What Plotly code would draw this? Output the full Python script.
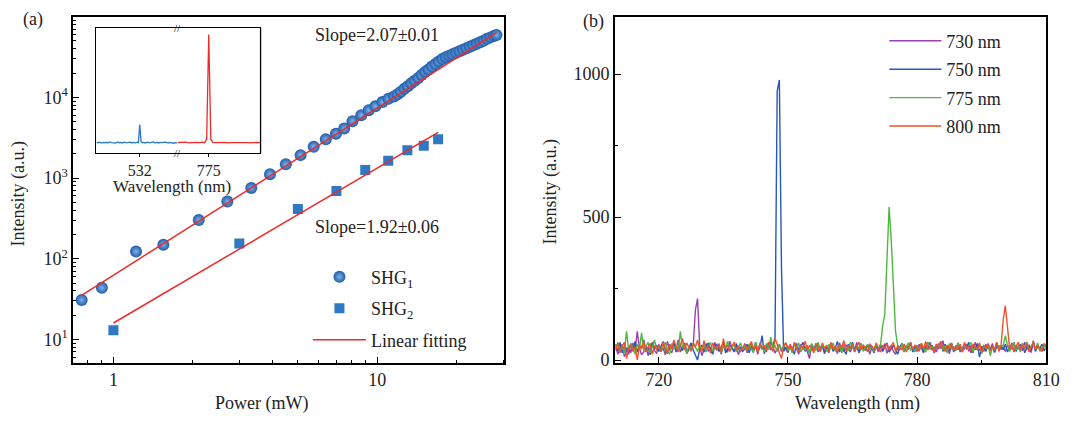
import numpy as np
import plotly.graph_objects as go

# ---------------- Panel (a) data ----------------
shg1_power = [0.758, 0.904, 1.218, 1.546, 2.106, 2.702, 3.33, 3.92, 4.50, 5.12, 5.74, 6.38, 6.97,
              7.49, 8.05, 8.69, 9.28, 9.83, 10.46, 11.02, 11.57, 11.93, 12.29, 12.67, 13.05,
              13.45, 13.86, 14.29, 14.72, 15.17, 15.63, 16.11, 16.60, 17.11, 17.63, 18.17,
              18.73, 19.29, 19.88, 20.49, 21.12, 21.76, 22.43, 23.11, 23.82, 24.55, 25.29,
              26.06, 26.86, 27.68, 28.28]
shg1_int = [30.9, 43.6, 122.7, 149.6, 302, 511, 751, 1117, 1478, 1923, 2438, 3020, 3548,
            4115, 5070, 6000, 6920, 7740, 8730, 9590, 10260, 10940, 11750, 12780, 13710,
            14930, 16000, 17420, 18960, 20630, 22140, 24100, 25850, 27730, 29770, 31480,
            32860, 34280, 35750, 37300, 38900, 40580, 42330, 44160, 46060, 48060, 50120,
            53040, 55340, 57700, 59380]
shg2_power = [1, 3, 5, 7, 9, 11, 13, 15, 17]
shg2_int = [13, 154, 413, 692, 1258, 1641, 2213, 2511, 3024]

fit1_amp, fit1_slope, fit1_range = 62.5, 2.07, [0.76, 28.3]
fit2_amp, fit2_slope, fit2_range = 16.0, 1.92, [1.0, 17.0]

inset_blue_start, inset_blue_step = 500, 1
inset_blue = [0.085, 0.082, 0.088, 0.084, 0.080, 0.086, 0.083, 0.087, 0.081, 0.085,
              0.089, 0.084, 0.082, 0.086, 0.080, 0.085, 0.088, 0.083, 0.086, 0.081,
              0.084, 0.087, 0.082, 0.085, 0.083, 0.088, 0.081, 0.086, 0.084, 0.082,
              0.087, 0.084, 0.228, 0.090, 0.083, 0.086, 0.081, 0.085, 0.088, 0.082,
              0.086, 0.084, 0.090, 0.083, 0.087, 0.085, 0.081, 0.086, 0.083, 0.085,
              0.082, 0.087, 0.084, 0.080, 0.086, 0.083, 0.085, 0.079, 0.084, 0.081, 0.082]
inset_red_start, inset_red_step = 760, 1
inset_red = [0.084, 0.086, 0.083, 0.085, 0.087, 0.082, 0.086, 0.084, 0.085, 0.083,
             0.086, 0.084, 0.087, 0.083, 0.110, 0.947, 0.110, 0.086, 0.084, 0.085,
             0.083, 0.086, 0.084, 0.085, 0.082, 0.086, 0.084, 0.083, 0.085, 0.086,
             0.084, 0.083, 0.085, 0.086, 0.084, 0.082, 0.085, 0.084, 0.086, 0.083, 0.085]

# ---------------- Panel (b) data ----------------
wl_start, wl_step = 710.0, 0.5
s730 = [45, 20, 38, 55, 12, 30, 48, 25, 60, 35, 100, 42, 18, 28, 50, 15, 40, 62, 33, 22,
        55, 30, 42, 18, 65, 38, 25, 50, 33, 70, 28, 45, 60, 22, 40, 52, 50, 175, 215, 50,
        15, 40, 58, 30, 45, 22, 62, 35, 48, 20, 55, 38, 28, 66, 42, 30, 50, 18, 44, 36,
        52, 25, 40, 60, 33, 47, 20, 58, 38, 45, 28, 62, 35, 50, 24, 43, 55, 30, 48, 38,
        26, 50, 35, 60, 42, 20, 55, 38, 45, 30, 5, 48, 36, 58, 28, 44, 52, 33, 40, 25,
        57, 35, 46, 22, 60, 38, 30, 52, 44, 28, 50, 36, 62, 25, 42, 48, 33, 55, 20, 45,
        38, 52, 28, 46, 35, 58, 24, 44, 50, 30, 20, 42, 36, 55, 28, 48, 40, 60, 32, 45,
        30, 55, 42, 25, 50, 38, 62, 34, 46, 28, 58, 40, 68, 32, 48, 22, 54, 40, 35, 60,
        28, 45, 38, 56, 30, 50, 24, 62, 40, 35, 48, 30, 55, 42, 36, 58, 26, 46, 50, 38,
        44, 30, 52, 36, 60, 28, 48, 40, 55, 32, 62, 38, 45, 26, 68, 35, 50, 42, 30, 55,
        40]
s750 = [55, 30, 62, 25, 48, 40, 20, 58, 35, 65, 28, 50, 42, 70, 30, 45, 18, 60, 38, 52,
        30, 48, 65, 35, 22, 55, 40, 62, 28, 45, 50, 33, 58, 25, 42, 60, 35, 20, 0, 38,
        52, 28, 45, 60, 35, 20, 48, 55, 30, 42, 62, 25, 38, 50, 44, 28, 58, 35, 46, 30,
        40, 55, 25, 48, 36, 62, 30, 44, 85, 22, 50, 38, 65, 45, 80, 940, 980, 320, 30, 45,
        28, 52, 40, 20, 58, 35, 46, 62, 30, 48, 25, 55, 38, 44, 60, 32, 50, 22, 45, 36,
        58, 30, 42, 65, 28, 50, 36, 20, 55, 40, 62, 34, 48, 26, 58, 38, 45, 30, 52, 42,
        25, 48, 36, 55, 30, 44, 60, 28, 40, 52, 35, 20, 46, 58, 32, 50, 38, 62, 28, 44,
        50, 35, 58, 28, 45, 62, 38, 52, 24, 48, 40, 66, 30, 55, 42, 36, 60, 28, 50, 38,
        45, 30, 55, 40, 62, 25, 48, 36, 58, 10, 42, 50, 30, 56, 38, 45, 28, 60, 35, 48,
        36, 55, 28, 46, 40, 62, 30, 50, 38, 58, 25, 44, 52, 35, 60, 30, 48, 40, 55, 32,
        45]
s775 = [40, 62, 30, 50, 25, 100, 35, 58, 42, 20, 55, 38, 95, 30, 48, 62, 25, 44, 70, 36,
        50, 28, 45, 62, 35, 20, 58, 40, 48, 30, 100, 42, 55, 25, 50, 38, 60, 45, 30, 52,
        35, 55, 28, 48, 62, 30, 45, 38, 58, 25, 50, 40, 66, 32, 46, 55, 28, 42, 60, 36,
        48, 30, 56, 40, 25, 62, 38, 50, 44, 28, 58, 36, 80, 42, 50, 30, 55, 38, 46, 60,
        32, 48, 25, 55, 40, 60, 28, 45, 36, 52, 20, 58, 42, 34, 62, 28, 50, 44, 30, 55,
        38, 60, 30, 46, 52, 25, 56, 40, 34, 62, 45, 28, 50, 38, 58, 30, 44, 55, 36, 48,
        30, 52, 40, 50, 120, 160, 350, 535, 420, 260, 100, 50, 38, 55, 30, 46, 60, 35, 42, 28,
        50, 36, 58, 42, 28, 62, 40, 48, 30, 55, 45, 66, 35, 50, 25, 58, 40, 46, 32, 60,
        42, 28, 55, 38, 50, 62, 30, 46, 36, 58, 22, 48, 40, 55, 15, 45, 35, 60, 42, 50,
        50, 85, 52, 30, 46, 62, 35, 50, 28, 56, 40, 64, 32, 48, 55, 38, 60, 30, 45, 52,
        38]
s800 = [35, 58, 25, 48, 62, 5, 40, 55, 30, 46, 0, 52, 38, 65, 28, 44, 58, 20, 50, 36,
        48, 30, 62, 40, 25, 55, 38, 70, 45, 28, 52, 75, 35, 60, 42, 30, 58, 45, 70, 40,
        30, 68, 38, 50, 25, 60, 42, 35, 55, 28, 75, 40, 52, 30, 48, 62, 35, 50, 28, 45,
        58, 32, 48, 65, 38, 52, 28, 60, 42, 50, 35, 62, 45, 30, 75, 55, 25, 5, 48, 60,
        40, 55, 30, 62, 45, 28, 52, 38, 66, 35, 50, 42, 25, 58, 46, 32, 60, 40, 52, 30,
        62, 38, 48, 30, 55, 44, 68, 32, 50, 40, 58, 28, 46, 62, 36, 52, 42, 30, 55, 48,
        35, 60, 42, 28, 52, 40, 58, 34, 48, 62, 30, 50, 44, 36, 56, 28, 46, 60, 38, 52,
        44, 30, 58, 40, 65, 35, 50, 42, 28, 56, 38, 62, 46, 30, 52, 40, 58, 34, 48, 36,
        55, 28, 62, 40, 48, 30, 56, 44, 36, 60, 25, 50, 42, 58, 32, 46, 38, 62, 30, 50,
        140, 190, 120, 40, 55, 30, 48, 62, 36, 50, 42, 58, 28, 46, 65, 35, 52, 40, 30, 58,
        48]
spec_names = ["730 nm", "750 nm", "775 nm", "800 nm"]
spec_colors = ["#9b3fb5", "#2358bd", "#4cb83c", "#f0512c"]

FONT = "Liberation Serif"
TXT = "#222222"
W, H = 1077, 421

fig = go.Figure()

fig.add_trace(go.Scatter(x=shg1_power, y=shg1_int, mode="markers", name="SHG<sub>1</sub>",
                         marker=dict(size=12, color="#1f5cab", line=dict(width=0),
                                     gradient=dict(type="radial", color="#7fb3e8")),
                         xaxis="x", yaxis="y", legend="legend", legendgroup="g1"))
fig.add_trace(go.Scatter(x=shg2_power, y=shg2_int, mode="markers", name="SHG<sub>2</sub>",
                         marker=dict(size=10, symbol="square", color="#2f78c4", line=dict(width=0)),
                         xaxis="x", yaxis="y", legend="legend", legendgroup="g2"))
for amp, slope, rng, first in [(fit1_amp, fit1_slope, fit1_range, True),
                               (fit2_amp, fit2_slope, fit2_range, False)]:
    px = np.array(rng)
    fig.add_trace(go.Scatter(x=px, y=amp * px ** slope, mode="lines",
                             line=dict(color="#ee2a2a", width=1.5),
                             name="Linear fitting", showlegend=first,
                             xaxis="x", yaxis="y", legend="legend", legendgroup="g3"))

bx = inset_blue_start + inset_blue_step * np.arange(len(inset_blue))
rx = inset_red_start + inset_red_step * np.arange(len(inset_red))
fig.add_trace(go.Scatter(x=bx, y=inset_blue, mode="lines", line=dict(color="#2f78c4", width=1.3),
                         showlegend=False, xaxis="x3", yaxis="y3"))
fig.add_trace(go.Scatter(x=rx, y=inset_red, mode="lines", line=dict(color="#ee2a2a", width=1.3),
                         showlegend=False, xaxis="x4", yaxis="y3"))

wl = wl_start + wl_step * np.arange(len(s730))
for i, (s, n, c) in enumerate(zip([s730, s750, s775, s800], spec_names, spec_colors)):
    fig.add_trace(go.Scatter(x=wl, y=s, mode="lines", name=n, line=dict(color=c, width=1.4),
                             xaxis="x2", yaxis="y2", legend="legend2", legendgroup=f"s{i}"))

axis_common = dict(showline=True, linecolor="black", linewidth=1.5, mirror=True,
                   showgrid=False, zeroline=False, ticks="inside", tickcolor="black",
                   tickwidth=1.2, ticklen=6, tickfont=dict(family=FONT, size=18, color=TXT))


def px2x(p):
    return p / W


def px2y(p):
    return (H - p) / H


ydom = [px2y(369), px2y(17)]
inset_tick_font = dict(family=FONT, size=16, color=TXT)
fig.update_layout(
    width=W, height=H, autosize=False,
    margin=dict(l=0, r=0, t=0, b=0),
    paper_bgcolor="white", plot_bgcolor="white",
    font=dict(family=FONT, size=18, color=TXT),
    xaxis=dict(axis_common, type="log", domain=[px2x(74), px2x(511)], anchor="y",
               range=[np.log10(0.703), np.log10(30.3)],
               tickmode="array", tickvals=[1, 10], ticktext=["1", "10"],
               minor=dict(ticks="inside", ticklen=3, tickcolor="black", tickwidth=1,
                          tickmode="array", tickvals=[0.8, 0.9, 2, 3, 4, 5, 6, 7, 8, 9, 20, 30])),
    yaxis=dict(axis_common, type="log", domain=ydom, anchor="x",
               range=[0.71, 4.999],
               tickmode="array", tickvals=[10, 100, 1000, 10000],
               ticktext=["10<sup>1</sup>", "10<sup>2</sup>", "10<sup>3</sup>", "10<sup>4</sup>"],
               minor=dict(ticks="inside", ticklen=3, tickcolor="black", tickwidth=1,
                          tickmode="array",
                          tickvals=[m * 10 ** k for k in range(0, 5) for m in range(2, 10)])),
    xaxis2=dict(axis_common, domain=[px2x(623), px2x(1060)], anchor="y2",
                range=[709.8, 810], tickmode="array", tickvals=[720, 750, 780, 810],
                minor=dict(ticks="inside", ticklen=3, tickcolor="black", tickwidth=1,
                           tickmode="array", tickvals=[735, 765, 795])),
    yaxis2=dict(axis_common, domain=ydom, anchor="x2",
                range=[-10, 1201], tickmode="array", tickvals=[0, 500, 1000],
                minor=dict(ticks="inside", ticklen=3, tickcolor="black", tickwidth=1,
                           tickmode="array", tickvals=[250, 750])),
    xaxis3=dict(showline=True, linecolor="black", linewidth=1.3, mirror=True, showgrid=False,
                zeroline=False, domain=[px2x(97.7), px2x(180)], anchor="y3",
                range=[500, 560], tickmode="array", tickvals=[532], ticks="outside",
                ticklen=3, tickcolor="black", tickfont=inset_tick_font),
    xaxis4=dict(showline=True, linecolor="black", linewidth=1.3, mirror=True, showgrid=False,
                zeroline=False, domain=[px2x(180), px2x(264)], anchor="y3",
                range=[760, 800], tickmode="array", tickvals=[775], ticks="outside",
                ticklen=3, tickcolor="black", tickfont=inset_tick_font),
    yaxis3=dict(showline=True, linecolor="black", linewidth=1.3, showgrid=False, zeroline=False,
                domain=[px2y(155.7), px2y(28.3)], anchor="x3", range=[0, 1],
                showticklabels=False, ticks=""),
    legend=dict(x=px2x(312), y=px2y(263), xanchor="left", yanchor="top",
                bgcolor="rgba(0,0,0,0)", font=dict(family=FONT, size=18, color=TXT),
                tracegroupgap=5, itemwidth=53, traceorder="grouped"),
    legend2=dict(x=px2x(896), y=px2y(23), xanchor="left", yanchor="top",
                 bgcolor="rgba(0,0,0,0)", font=dict(family=FONT, size=18, color=TXT),
                 tracegroupgap=2, itemwidth=52, traceorder="grouped"),
    shapes=[dict(type="line", xref="x4 domain", yref="y3 domain", x0=1, x1=1, y0=0, y1=1,
                 line=dict(color="black", width=1.3))],
)

ann = [
    dict(text="(a)", x=px2x(33), y=px2y(20)),
    dict(text="(b)", x=px2x(601), y=px2y(22)),
    dict(text="Slope=2.07±0.01", x=px2x(381.7), y=px2y(36)),
    dict(text="Slope=1.92±0.06", x=px2x(381.7), y=px2y(231)),
    dict(text="Power (mW)", x=px2x(265), y=px2y(410)),
    dict(text="Wavelength (nm)", x=px2x(869), y=px2y(410)),
    dict(text="Intensity (a.u.)", x=px2x(19), y=px2y(197), textangle=-90),
    dict(text="Intensity (a.u.)", x=px2x(558), y=px2y(195), textangle=-90),
    dict(text="Wavelength (nm)", x=px2x(174), y=px2y(190),
         font=dict(family=FONT, size=17, color=TXT)),
    dict(text="//", x=px2x(180), y=px2y(28.3), font=dict(family=FONT, size=11, color="black")),
    dict(text="//", x=px2x(180), y=px2y(155.7), font=dict(family=FONT, size=11, color="black")),
]
for a in ann:
    a.setdefault("font", dict(family=FONT, size=18, color=TXT))
    fig.add_annotation(xref="paper", yref="paper", xanchor="center", yanchor="middle",
                       showarrow=False, **a)

js = """
document.body.style.margin='0px';
document.documentElement.style.overflow='hidden';
"""
fig.write_html("out.html", post_script=js, config={"displayModeBar": False})
